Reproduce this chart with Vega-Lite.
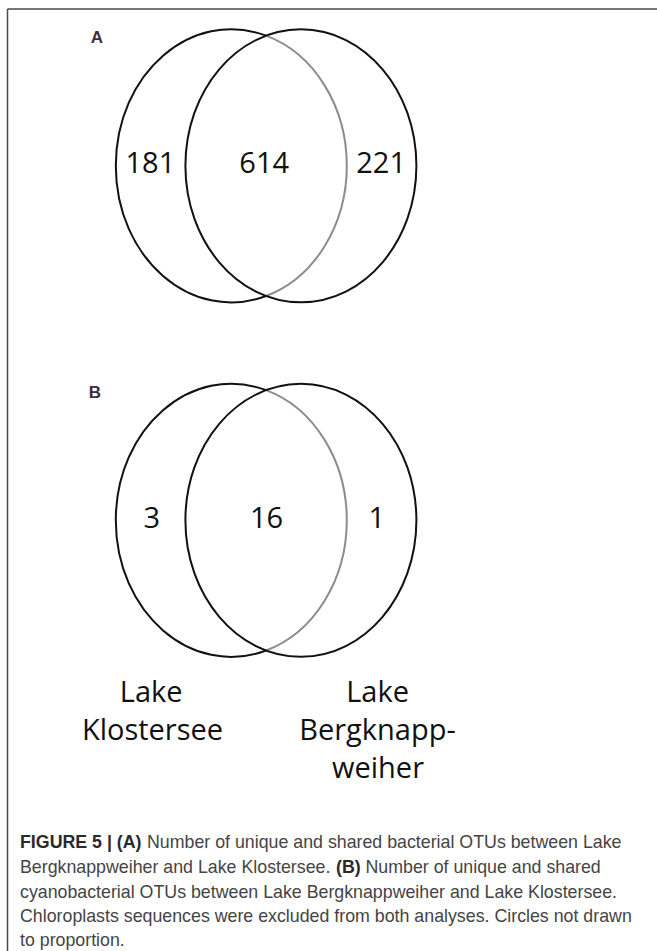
{
  "$schema": "https://vega.github.io/schema/vega-lite/v6.json",
  "width": 657,
  "height": 951,
  "autosize": {"type": "fit", "contains": "padding"},
  "padding": 0,
  "background": "white",
  "config": {"view": {"stroke": null}},
  "datasets": {
    "ellipses": [
      {"panel": "A", "part": "left", "x": 231.3, "y": 165.8},
      {"panel": "A", "part": "right", "x": 300.9, "y": 165.8},
      {"panel": "B", "part": "left", "x": 231.3, "y": 520.3},
      {"panel": "B", "part": "right", "x": 300.9, "y": 520.3}
    ],
    "border": [
      {"x": 7.5, "x2": 657, "y": 9, "y2": 9},
      {"x": 7.5, "x2": 7.5, "y": 9, "y2": 951}
    ],
    "labels": [
      {"t": "181", "x": 150.4, "y": 172.5},
      {"t": "614", "x": 264.2, "y": 172.5},
      {"t": "221", "x": 381.1, "y": 172.5},
      {"t": "3", "x": 151.7, "y": 527.5},
      {"t": "16", "x": 266.6, "y": 527.5},
      {"t": "1", "x": 376.7, "y": 527.5},
      {"t": "Lake", "x": 151.2, "y": 702},
      {"t": "Klostersee", "x": 152.5, "y": 740},
      {"t": "Lake", "x": 377.6, "y": 702},
      {"t": "Bergknapp-", "x": 377.5, "y": 740},
      {"t": "weiher", "x": 378, "y": 778}
    ],
    "letters": [
      {"t": "A", "x": 97, "y": 43},
      {"t": "B", "x": 95, "y": 398}
    ],
    "caption": [
      {"t": "Number of unique and shared bacterial OTUs between Lake", "x": 147, "y": 843},
      {"t": "Bergknappweiher and Lake Klostersee.", "x": 20, "y": 868},
      {"t": "Number of unique and shared", "x": 365.5, "y": 868},
      {"t": "cyanobacterial OTUs between Lake Bergknappweiher and Lake Klostersee.", "x": 20, "y": 893},
      {"t": "Chloroplasts sequences were excluded from both analyses. Circles not drawn", "x": 20, "y": 917},
      {"t": "to proportion.", "x": 20, "y": 941}
    ],
    "captionBold": [
      {"t": "FIGURE 5 | (A)", "x": 20, "y": 843},
      {"t": "(B)", "x": 336, "y": 868}
    ]
  },
  "layer": [
    {
      "data": {"name": "border"},
      "mark": {"type": "rule", "color": "#4a4a4a", "strokeWidth": 1.5, "clip": true},
      "encoding": {
        "x": {"field": "x", "type": "quantitative", "scale": {"domain": [0, 657]}, "axis": null},
        "x2": {"field": "x2"},
        "y": {"field": "y", "type": "quantitative", "scale": {"domain": [0, 951], "reverse": true}, "axis": null},
        "y2": {"field": "y2"}
      }
    },
    {
      "data": {"name": "ellipses"},
      "transform": [{"filter": "datum.part === 'left'"}],
      "mark": {"type": "point", "filled": false, "opacity": 1, "size": 53361, "stroke": "#8c8c8c", "strokeWidth": 2,
        "shape": "M 0.301 -1.127 C 0.7171 -0.9718 1 -0.5156 1 0 C 1 0.5156 0.7171 0.9718 0.301 1.127"},
      "encoding": {
        "x": {"field": "x", "type": "quantitative", "scale": {"domain": [0, 657]}, "axis": null},
        "y": {"field": "y", "type": "quantitative", "scale": {"domain": [0, 951], "reverse": true}, "axis": null}
      }
    },
    {
      "data": {"name": "ellipses"},
      "transform": [{"filter": "datum.part === 'left'"}],
      "mark": {"type": "point", "filled": false, "opacity": 1, "size": 53361, "stroke": "#111111", "strokeWidth": 2,
        "shape": "M 0.301 1.127 C -0.3435 1.3673 -1 0.7988 -1 0 C -1 -0.7988 -0.3435 -1.3673 0.301 -1.127"},
      "encoding": {
        "x": {"field": "x", "type": "quantitative", "scale": {"domain": [0, 657]}, "axis": null},
        "y": {"field": "y", "type": "quantitative", "scale": {"domain": [0, 951], "reverse": true}, "axis": null}
      }
    },
    {
      "data": {"name": "ellipses"},
      "transform": [{"filter": "datum.part === 'right'"}],
      "mark": {"type": "point", "filled": false, "opacity": 1, "size": 53361, "stroke": "#111111", "strokeWidth": 2,
        "shape": "M -1 0 C -1 -0.6527 -0.5523 -1.1818 0 -1.1818 C 0.5523 -1.1818 1 -0.6527 1 0 C 1 0.6527 0.5523 1.1818 0 1.1818 C -0.5523 1.1818 -1 0.6527 -1 0 Z"},
      "encoding": {
        "x": {"field": "x", "type": "quantitative", "scale": {"domain": [0, 657]}, "axis": null},
        "y": {"field": "y", "type": "quantitative", "scale": {"domain": [0, 951], "reverse": true}, "axis": null}
      }
    },
    {
      "data": {"name": "labels"},
      "mark": {"type": "text", "font": "Open Sans", "fontSize": 29, "color": "#111111", "align": "center", "baseline": "alphabetic"},
      "encoding": {
        "x": {"field": "x", "type": "quantitative", "scale": {"domain": [0, 657]}, "axis": null},
        "y": {"field": "y", "type": "quantitative", "scale": {"domain": [0, 951], "reverse": true}, "axis": null},
        "text": {"field": "t"}
      }
    },
    {
      "data": {"name": "letters"},
      "mark": {"type": "text", "font": "Liberation Sans", "fontWeight": "bold", "fontSize": 17, "color": "#3b2f3b", "align": "center", "baseline": "alphabetic"},
      "encoding": {
        "x": {"field": "x", "type": "quantitative", "scale": {"domain": [0, 657]}, "axis": null},
        "y": {"field": "y", "type": "quantitative", "scale": {"domain": [0, 951], "reverse": true}, "axis": null},
        "text": {"field": "t"}
      }
    },
    {
      "data": {"name": "caption"},
      "mark": {"type": "text", "font": "Liberation Sans", "fontSize": 17.8, "color": "#444444", "align": "left", "baseline": "middle"},
      "encoding": {
        "x": {"field": "x", "type": "quantitative", "scale": {"domain": [0, 657]}, "axis": null},
        "y": {"field": "y", "type": "quantitative", "scale": {"domain": [0, 951], "reverse": true}, "axis": null},
        "text": {"field": "t"}
      }
    },
    {
      "data": {"name": "captionBold"},
      "mark": {"type": "text", "font": "Liberation Sans", "fontWeight": "bold", "fontSize": 17.8, "color": "#2a2a2a", "align": "left", "baseline": "middle"},
      "encoding": {
        "x": {"field": "x", "type": "quantitative", "scale": {"domain": [0, 657]}, "axis": null},
        "y": {"field": "y", "type": "quantitative", "scale": {"domain": [0, 951], "reverse": true}, "axis": null},
        "text": {"field": "t"}
      }
    }
  ]
}
